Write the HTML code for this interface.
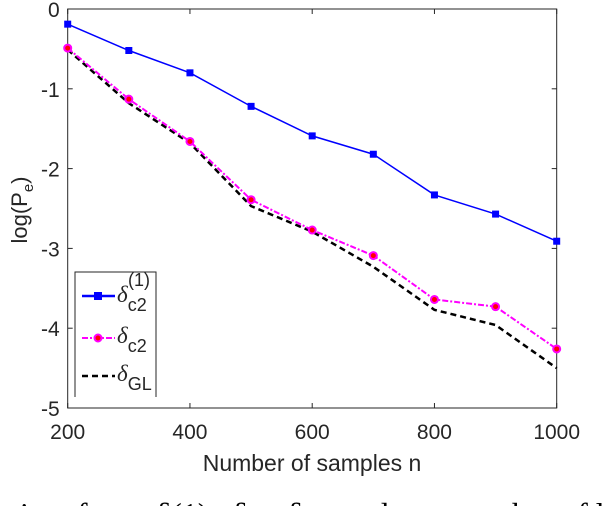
<!DOCTYPE html>
<html><head><meta charset="utf-8"><style>
body{margin:0;background:#fff;width:604px;height:506px;overflow:hidden;position:relative}
svg{display:block;font-family:"Liberation Sans",sans-serif}
#cap{position:absolute;left:0;top:498px;width:604px;height:8px;overflow:hidden}
#cap span{position:absolute;left:20px;top:0;font:32px "Liberation Serif",serif;white-space:pre;line-height:32px}
</style></head><body>
<svg id="chart" width="604" height="498" viewBox="0 0 604 498"></svg>
<div id="cap"><span>i    of test  δ(1)   δ     δ     and    as number of li</span></div>
<script>
const categories=[200,300,400,500,600,700,800,900,1000];
const seriesC2One=[-0.19,-0.52,-0.80,-1.22,-1.59,-1.82,-2.33,-2.57,-2.91];
const seriesC2=[-0.49,-1.13,-1.66,-2.39,-2.77,-3.09,-3.64,-3.73,-4.26];
const seriesGL=[-0.51,-1.18,-1.68,-2.47,-2.79,-3.23,-3.77,-3.96,-4.50];
const xTicks=[200,400,600,800,1000];
const yTicks=[0,-1,-2,-3,-4,-5];
const L=67.7,R=556.7,T=9,B=408;
const X=v=>L+(v-200)/800*(R-L);
const Y=v=>T+(0-v)/5*(B-T);
const s=document.getElementById('chart');
const NS='http://www.w3.org/2000/svg';
function mk(t,a,p){const e=document.createElementNS(NS,t);for(const k in a)e.setAttribute(k,a[k]);(p||s).appendChild(e);return e;}
let e;
e=mk('rect',{x:L,y:T,width:R-L,height:B-T,fill:'none',stroke:'#262626','stroke-width':1});


xTicks.forEach(v=>{
 mk('line',{x1:X(v),x2:X(v),y1:B,y2:B-5,stroke:'#262626'});
 mk('line',{x1:X(v),x2:X(v),y1:T,y2:T+5,stroke:'#262626'});
 e=mk('text',{x:X(v),y:B+31,'text-anchor':'middle','font-size':21,fill:'#262626'});e.textContent=v;
 
 
});
yTicks.forEach(v=>{
 mk('line',{x1:L,x2:L+5,y1:Y(v),y2:Y(v),stroke:'#262626'});
 mk('line',{x1:R,x2:R-5,y1:Y(v),y2:Y(v),stroke:'#262626'});
 e=mk('text',{x:L-8,y:Y(v)+8,'text-anchor':'end','font-size':21,fill:'#262626'});e.textContent=v===0?'0':'-'+Math.abs(v);
 
 
});
e=mk('text',{x:312,y:471,'text-anchor':'middle','font-size':23,fill:'#262626'});e.textContent='Number of samples n';


e=mk('text',{transform:'translate(27,210) rotate(-90)','text-anchor':'middle','font-size':22,fill:'#262626'});
e.innerHTML='log(P<tspan font-size="15" dy="6">e</tspan><tspan dy="-6">)</tspan>';


function line(d,color,dash,w,name){
 const pts=categories.map((c,i)=>X(c)+','+Y(d[i])).join(' ');
 const p=mk('polyline',{points:pts,fill:'none',stroke:color,'stroke-width':w,'stroke-dasharray':dash});
 
 
}
line(seriesGL,'#000','6,4',2.5,'series-gl-line');
line(seriesC2,'#ff00ff','6,2,2,2',2,'series-c2-line');
line(seriesC2One,'#0000ff','',1.5,'series-c2-1-line');
categories.forEach((c,i)=>{
 e=mk('rect',{x:X(c)-3.5,y:Y(seriesC2One[i])-3.5,width:7,height:7,fill:'#0000ff'});
 
 
 e=mk('circle',{cx:X(c),cy:Y(seriesC2[i]),r:3.5,fill:'#ff0000',stroke:'#ff00ff','stroke-width':2});
 
 
});
const g=mk('g',{});


mk('path',{d:'M75,397 V272 H156 V397',fill:'#fff',stroke:'#262626','stroke-width':1},g);
mk('line',{x1:82,x2:115,y1:296,y2:296,stroke:'#0000ff','stroke-width':2.5},g);
mk('rect',{x:94,y:292,width:8,height:8,fill:'#0000ff'},g);
mk('line',{x1:82,x2:115,y1:338,y2:338,stroke:'#ff00ff','stroke-width':2,'stroke-dasharray':'6,2,2,2'},g);
mk('circle',{cx:98,cy:338,r:3.5,fill:'#ff0000',stroke:'#ff00ff','stroke-width':2},g);
mk('line',{x1:82,x2:115,y1:376,y2:376,stroke:'#000','stroke-width':2.5,'stroke-dasharray':'6,4'},g);
function lab(y,sub,sup,name){
 const t=mk('text',{x:117,y:y,'font-size':23,fill:'#262626'},g);
 t.innerHTML='<tspan font-family="Liberation Serif" font-style="italic">δ</tspan><tspan font-size="18" dy="9">'+sub+'</tspan>'+(sup?'<tspan x="128" font-size="18" dy="-25">'+sup+'</tspan>':'');
 
 
}
lab(302,'c2','(1)','legend-label-c2-1');
lab(343,'c2','','legend-label-c2');
lab(381,'GL','','legend-label-gl');
</script>
</body></html>
